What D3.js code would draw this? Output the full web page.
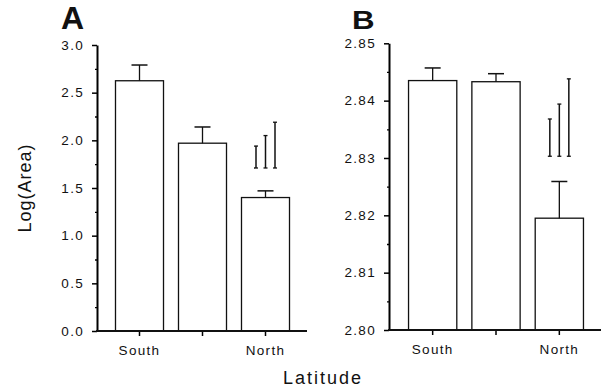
<!DOCTYPE html>
<html>
<head>
<meta charset="utf-8">
<script src="https://cdn.jsdelivr.net/npm/d3@7"></script>
<style>
  body { margin: 0; background: #fff; }
  svg { display: block; }
  text { font-family: "Liberation Sans", Arial, sans-serif; fill: #111; }
  .tick text { font-size: 13.5px; letter-spacing: 1.3px; }
</style>
</head>
<body>
<div id="chart"></div>
<script>
// categories along latitude (only the outer ones are labelled)
var categories = ["South", "Middle", "North"];
var tickLabels = ["South", "", "North"];

// panel A
var meanA = [2.625, 1.97, 1.40];
var errA  = [2.79, 2.14, 1.47];
var sigBottomA = [1.71, 1.71, 1.71];
var sigTopA    = [1.94, 2.05, 2.19];
var yTicksA = [0, 0.5, 1.0, 1.5, 2.0, 2.5, 3.0];

// panel B
var meanB = [2.8435, 2.8433, 2.8195];
var errB  = [2.8457, 2.8447, 2.8259];
var sigBottomB = [2.8303, 2.8303, 2.8303];
var sigTopB    = [2.8368, 2.8394, 2.8438];
var yTicksB = [2.80, 2.81, 2.82, 2.83, 2.84, 2.85];

var width = 601, height = 389;
var svg = d3.select("#chart").append("svg")
    .attr("width", width).attr("height", height);

function panel(opt) {
    var g = svg.append("g");

    var x = d3.scaleBand().domain(categories)
        .range(opt.xRange).paddingInner(0.238).paddingOuter(0.119);
    var y = d3.scaleLinear().domain(opt.yDomain).range(opt.yRange);

    // minor ticks
    g.append("g")
        .attr("transform", "translate(" + opt.axisX + ",0)")
        .call(d3.axisLeft(y).tickValues(opt.minor).tickSize(2).tickFormat(""))
        .call(function(s) { s.select(".domain").remove(); s.selectAll("line").attr("stroke-width", 1.3); });

    // major ticks
    var yAxis = g.append("g")
        .attr("transform", "translate(" + opt.axisX + ",0)")
        .call(d3.axisLeft(y).tickValues(opt.ticks).tickSize(5).tickSizeOuter(0)
            .tickPadding(8).tickFormat(d3.format(opt.fmt)));
    yAxis.select(".domain").attr("stroke-width", 2);
    yAxis.selectAll(".tick line").attr("stroke-width", 1.5);

    // bars
    g.selectAll(".bar").data(opt.mean).enter().append("rect")
        .attr("x", function(d, i) { return x(categories[i]); })
        .attr("y", function(d) { return y(d); })
        .attr("width", x.bandwidth())
        .attr("height", function(d) { return y(opt.yDomain[0]) - y(d); })
        .attr("fill", "#fff").attr("stroke", "#111").attr("stroke-width", 1.3);

    // error bars
    opt.err.forEach(function(e, i) {
        var cx = x(categories[i]) + x.bandwidth() / 2;
        g.append("line").attr("x1", cx).attr("x2", cx)
            .attr("y1", y(opt.mean[i])).attr("y2", y(e))
            .attr("stroke", "#111").attr("stroke-width", 1.3);
        g.append("line").attr("x1", cx - 8).attr("x2", cx + 8)
            .attr("y1", y(e)).attr("y2", y(e))
            .attr("stroke", "#111").attr("stroke-width", 1.5);
    });

    // significance lines above the north bar
    var nc = x("North") + x.bandwidth() / 2;
    opt.sigTop.forEach(function(t, i) {
        var sx = nc + (i - 1) * 9.5;
        var b = opt.sigBottom[i];
        g.append("line").attr("x1", sx).attr("x2", sx)
            .attr("y1", y(b)).attr("y2", y(t))
            .attr("stroke", "#111").attr("stroke-width", 1.5);
        [b, t].forEach(function(v) {
            g.append("line").attr("x1", sx - 2).attr("x2", sx + 2)
                .attr("y1", y(v)).attr("y2", y(v))
                .attr("stroke", "#111").attr("stroke-width", 1.3);
        });
    });

    // x axis
    var xAxis = g.append("g")
        .attr("transform", "translate(0," + y(opt.yDomain[0]) + ")")
        .call(d3.axisBottom(x).tickSize(5).tickSizeOuter(0).tickPadding(9)
            .tickFormat(function(d, i) { return tickLabels[i]; }));
    xAxis.select(".domain").remove();
    xAxis.selectAll(".tick line").attr("stroke-width", 1.5);
    g.append("line")
        .attr("x1", opt.axisX - 1).attr("x2", opt.xEnd)
        .attr("y1", y(opt.yDomain[0])).attr("y2", y(opt.yDomain[0]))
        .attr("stroke", "#111").attr("stroke-width", 2);

    return g;
}

panel({
    xRange: [108, 297], axisX: 97, xEnd: 307,
    yDomain: [0, 3], yRange: [331, 45],
    ticks: yTicksA, minor: d3.range(0.25, 3, 0.5), fmt: ".1f",
    mean: meanA, err: errA, sigBottom: sigBottomA, sigTop: sigTopA
});

panel({
    xRange: [401, 591], axisX: 389, xEnd: 601,
    yDomain: [2.80, 2.85], yRange: [330, 43.3],
    ticks: yTicksB, minor: d3.range(2.805, 2.85, 0.01), fmt: ".2f",
    mean: meanB, err: errB, sigBottom: sigBottomB, sigTop: sigTopB
});

// panel letters
svg.append("text").attr("x", 61).attr("y", 29)
    .style("font-size", "32px").style("font-weight", "bold").text("A");
svg.append("text").attr("transform", "translate(352,29) scale(1.25,1)")
    .style("font-size", "25px").style("font-weight", "bold").text("B");

// axis titles
svg.append("text")
    .attr("transform", "translate(31,188) rotate(-90)")
    .attr("text-anchor", "middle")
    .style("font-size", "18px").style("letter-spacing", "1px")
    .text("Log(Area)");
svg.append("text")
    .attr("x", 323).attr("y", 384)
    .attr("text-anchor", "middle")
    .style("font-size", "18px").style("letter-spacing", "2px")
    .text("Latitude");
</script>
</body>
</html>
